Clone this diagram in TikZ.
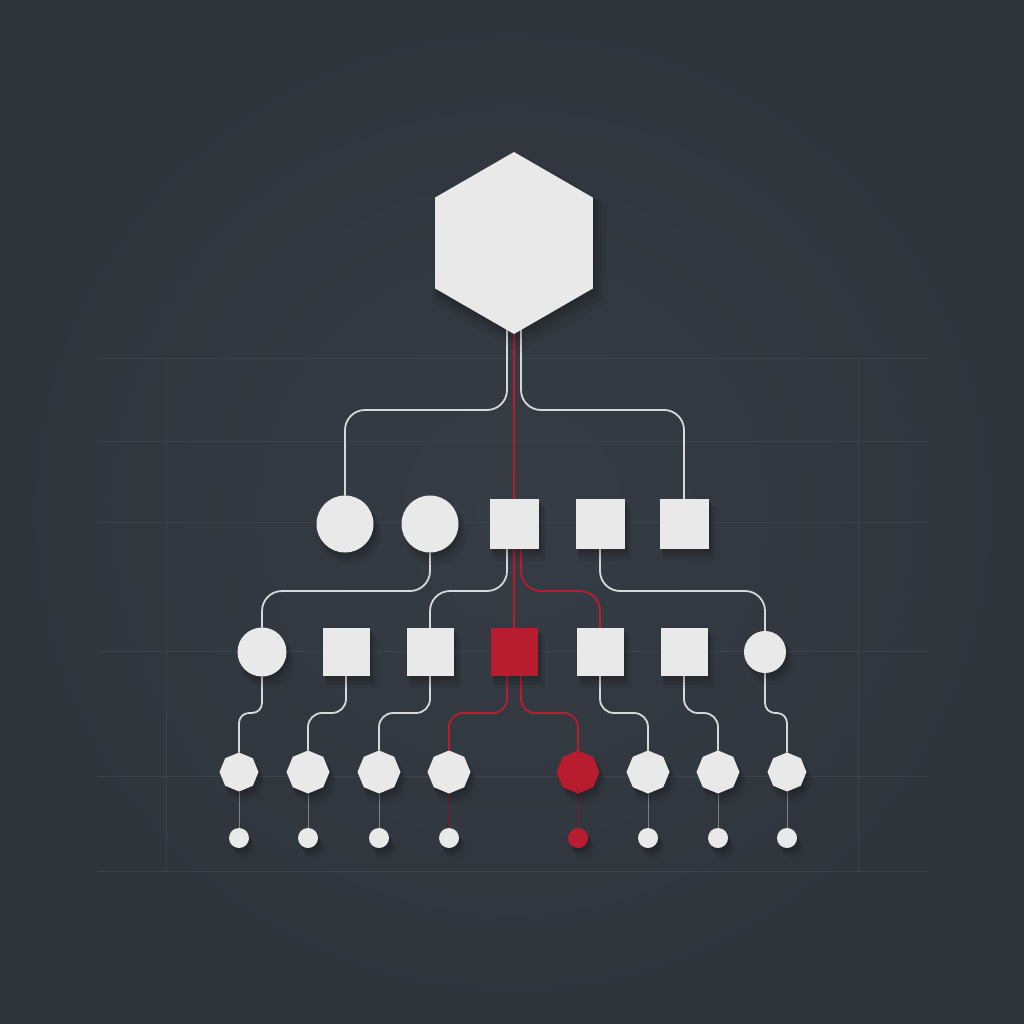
\documentclass[tikz,border=0pt]{standalone}
\usetikzlibrary{shapes.geometric,shadows,calc}
\definecolor{bgc}{HTML}{343A41}
\definecolor{bgin}{HTML}{363C44}
\definecolor{bgout}{HTML}{30353C}
\definecolor{gridc}{HTML}{3C434B}
\definecolor{nodew}{HTML}{E9E9E9}
\definecolor{wirec}{HTML}{D6D8DA}
\definecolor{redc}{HTML}{B81C2F}
\definecolor{thinc}{HTML}{7A8188}
\pgfdeclarelayer{bg}
\pgfdeclarelayer{edges}
\pgfsetlayers{bg,edges,main}
\tikzset{
  nd/.style={fill=nodew, draw=none, inner sep=0pt, outer sep=0pt,
    general shadow={fill=black, opacity=.05, shadow xshift=5pt, shadow yshift=-9pt, shadow scale=1.10},
    general shadow={fill=black, opacity=.06, shadow xshift=4pt, shadow yshift=-7pt, shadow scale=1.06},
    general shadow={fill=black, opacity=.07, shadow xshift=3pt, shadow yshift=-5pt, shadow scale=1.03},
    general shadow={fill=black, opacity=.08, shadow xshift=2pt, shadow yshift=-3pt}},
  hexnode/.style={nd, regular polygon, regular polygon sides=6, shape border rotate=30, minimum size=182pt},
  circn/.style={nd, circle, minimum size=#1},
  sqn/.style={nd, rectangle, minimum width=49pt, minimum height=50pt},
  octn/.style={nd, regular polygon, regular polygon sides=8, shape border rotate=22.5, minimum size=#1},
  dotn/.style={nd, circle, minimum size=20pt},
  rednode/.style={fill=redc},
  wire/.style={draw=wirec, line width=1.8pt, rounded corners=20pt},
  wiresm/.style={draw=wirec, line width=1.8pt, rounded corners=14pt},
  wiretiny/.style={draw=wirec, line width=1.8pt, rounded corners=10pt},
  rwire/.style={draw=redc, line width=1.8pt, rounded corners=20pt},
  rwiresm/.style={draw=redc, line width=1.8pt, rounded corners=14pt},
  thinw/.style={draw=thinc, line width=0.8pt},
  thinr/.style={draw=redc!75!black, line width=0.8pt},
  gridline/.style={draw=gridc, line width=1pt}
}
\begin{document}
\begin{tikzpicture}[x=1pt,y=-1pt]
\useasboundingbox (0,0) rectangle (1024,1024);
\begin{pgfonlayer}{bg}
  \fill[bgc] (0,0) rectangle (1024,1024);
  \shade[inner color=bgin, outer color=bgout] (0,0) rectangle (1024,1024);
  \foreach \yy in {358,441,522,651,776,871}
    \draw[gridline] (97,\yy) -- (928,\yy);
  \foreach \xx in {166,858}
    \draw[gridline] (\xx,358) -- (\xx,871);
\end{pgfonlayer}

% level heights for the bends
\coordinate (h1) at (0,410);
\coordinate (h2) at (0,591);
\coordinate (h3) at (0,713);

% root
\node[hexnode] (hex) at (514,243) {};

% level 1
\node[circn=57pt] (c1a) at (345,524) {};
\node[circn=57pt] (c1b) at (430,524) {};
\node[sqn] (s1a) at (514,524) {};
\node[sqn] (s1b) at (600,524) {};
\node[sqn] (s1c) at (684,524) {};

% level 2
\node[circn=49pt] (c2a) at (262,652) {};
\node[sqn, minimum width=47pt, minimum height=48pt] (s2a) at (346,652) {};
\node[sqn, minimum width=47pt, minimum height=48pt] (s2b) at (430,652) {};
\node[sqn, rednode, minimum width=47pt, minimum height=48pt] (s2r) at (514,652) {};
\node[sqn, minimum width=47pt, minimum height=48pt] (s2c) at (600,652) {};
\node[sqn, minimum width=47pt, minimum height=48pt] (s2d) at (684,652) {};
\node[circn=42pt] (c2b) at (765,652) {};

% level 3
\node[octn=39pt] (o1) at (239,772) {};
\node[octn=43pt] (o2) at (308,772) {};
\node[octn=43pt] (o3) at (379,772) {};
\node[octn=43pt] (o4) at (449,772) {};
\node[octn=43pt, rednode] (o5) at (578,772) {};
\node[octn=43pt] (o6) at (648,772) {};
\node[octn=43pt] (o7) at (718,772) {};
\node[octn=39pt] (o8) at (787,772) {};

% leaves
\node[dotn] (d1) at (239,838) {};
\node[dotn] (d2) at (308,838) {};
\node[dotn] (d3) at (379,838) {};
\node[dotn] (d4) at (449,838) {};
\node[dotn, rednode] (d5) at (578,838) {};
\node[dotn] (d6) at (648,838) {};
\node[dotn] (d7) at (718,838) {};
\node[dotn] (d8) at (787,838) {};

\begin{pgfonlayer}{edges}
  % root -> level 1
  \draw[wire] ([xshift=-7pt,yshift=10pt]hex.south) |- (c1a.north |- h1) -- (c1a.north);
  \draw[rwire] ([yshift=10pt]hex.south) -- (s1a.north);
  \draw[wire] ([xshift=7pt,yshift=10pt]hex.south) |- (s1c.north |- h1) -- (s1c.north);
  % level 1 -> level 2
  \draw[wire] (c1b.south) |- (c2a.north |- h2) -- (c2a.north);
  \draw[wire] ([xshift=-7pt,yshift=4pt]s1a.south) |- (s2b.north |- h2) -- (s2b.north);
  \draw[rwire] (s1a.south) -- (s2r.north);
  \draw[rwire] ([xshift=7pt,yshift=4pt]s1a.south) |- (s2c.north |- h2) -- (s2c.north);
  \draw[wire] (s1b.south) |- (c2b.north |- h2) -- (c2b.north);
  % level 2 -> level 3
  \draw[wiretiny] (c2a.south) |- (o1.north |- h3) -- (o1.north);
  \draw[wiresm] (s2a.south) |- (o2.north |- h3) -- (o2.north);
  \draw[wiresm] (s2b.south) |- (o3.north |- h3) -- (o3.north);
  \draw[rwiresm] ([xshift=-7pt,yshift=4pt]s2r.south) |- (o4.north |- h3) -- (o4.north);
  \draw[rwiresm] ([xshift=7pt,yshift=4pt]s2r.south) |- (o5.north |- h3) -- (o5.north);
  \draw[wiresm] (s2c.south) |- (o6.north |- h3) -- (o6.north);
  \draw[wiresm] (s2d.south) |- (o7.north |- h3) -- (o7.north);
  \draw[wiretiny] (c2b.south) |- (o8.north |- h3) -- (o8.north);
  % level 3 -> leaves
  \draw[thinw] (o1.south) -- (d1.north);
  \draw[thinw] (o2.south) -- (d2.north);
  \draw[thinw] (o3.south) -- (d3.north);
  \draw[thinr] (o4.south) -- (d4.north);
  \draw[thinr] (o5.south) -- (d5.north);
  \draw[thinw] (o6.south) -- (d6.north);
  \draw[thinw] (o7.south) -- (d7.north);
  \draw[thinw] (o8.south) -- (d8.north);
\end{pgfonlayer}
\end{tikzpicture}
\end{document}
